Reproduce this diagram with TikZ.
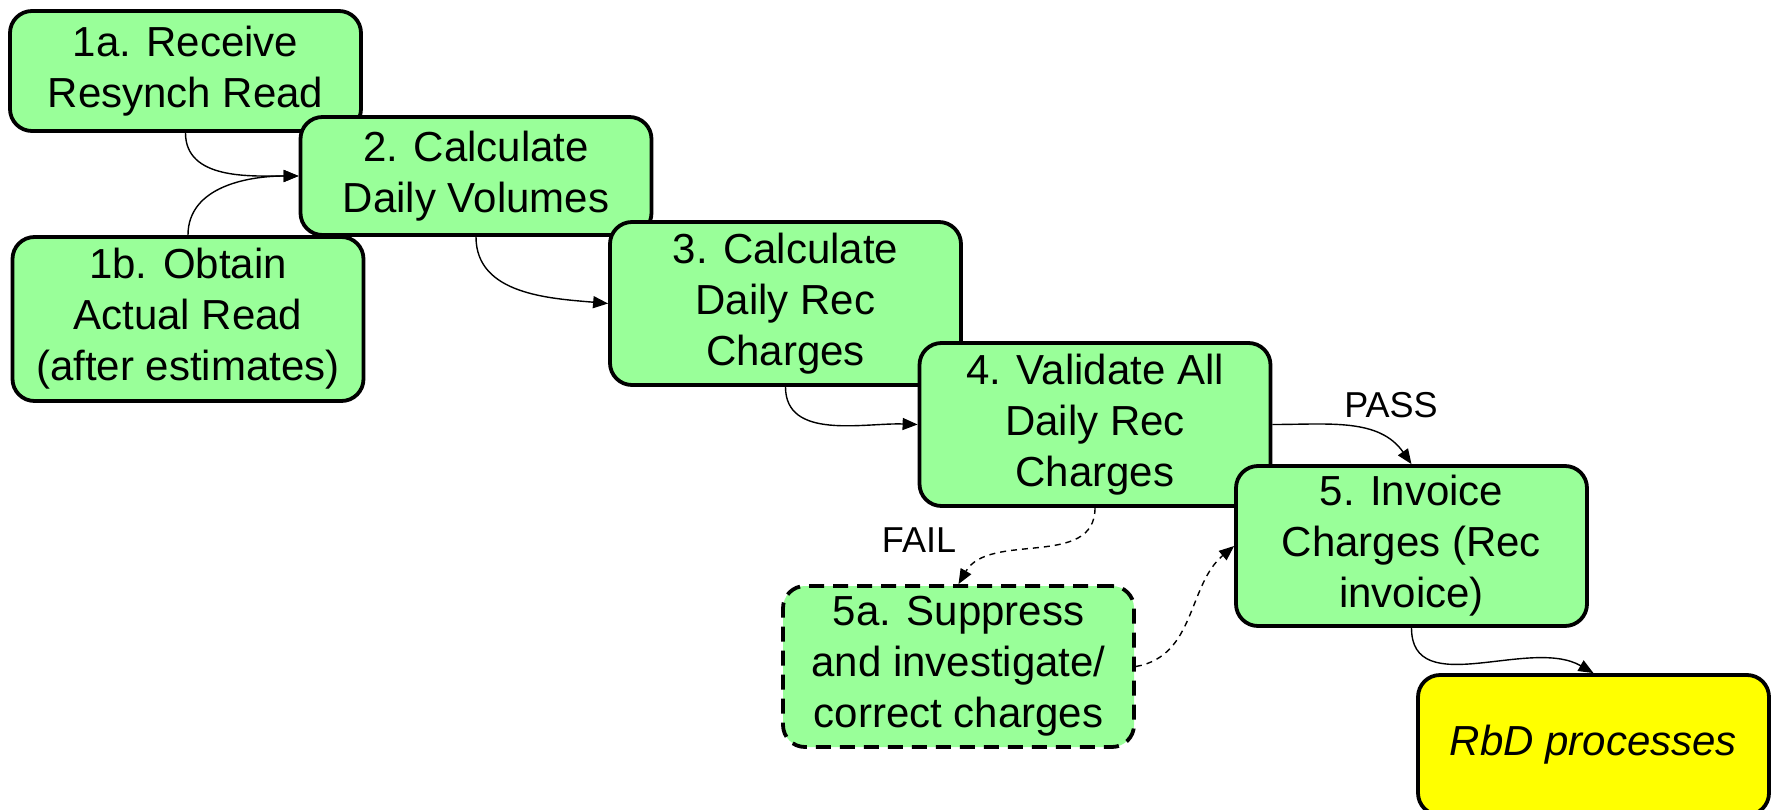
\documentclass[tikz,border=0pt]{standalone}
\usepackage{fontspec}
\setmainfont{Liberation Sans}
\usetikzlibrary{arrows.meta}
\definecolor{boxgreen}{HTML}{99FF99}
\definecolor{boxyellow}{HTML}{FFFF00}
\begin{document}
\begin{tikzpicture}[x=0.5pt,y=0.5pt,
  stepbox/.style={draw=black, line width=1.9pt, fill=boxgreen, rounded corners=11pt,
    align=center, font=\fontsize{21}{25.5}\selectfont, inner sep=0pt, minimum width=175.5pt},
  flow/.style={line width=0.7pt, -{Triangle[length=7.5pt,width=6pt]}},
  dflow/.style={flow, dash pattern=on 3pt off 2.5pt},
  lbl/.style={font=\fontsize{18}{21}\selectfont, inner sep=0pt}]
\useasboundingbox (0,0) rectangle (1773,-809);

\node[stepbox, minimum height=60pt] (a1) at (185.5,-71) {1a. Receive\\Resynch Read};
\node[stepbox, minimum height=59pt] (n2) at (476,-176) {2. Calculate\\Daily Volumes};
\node[stepbox, minimum height=82pt] (b1) at (188,-319) {1b. Obtain\\Actual Read\\(after estimates)};
\node[stepbox, minimum height=81.5pt] (n3) at (785.5,-303.5) {3. Calculate\\Daily Rec\\Charges};
\node[stepbox, minimum height=81.5pt] (n4) at (1095,-424.5) {4. Validate All\\Daily Rec\\Charges};
\node[stepbox, minimum height=80pt] (n5) at (1411.5,-546) {5. Invoice\\Charges (Rec\\invoice)};
\node[stepbox, minimum height=80.5pt, dash pattern=on 7.5pt off 4.5pt] (s5a) at (958.5,-666.5) {5a. Suppress\\and investigate/\\correct charges};
\node[stepbox, fill=boxyellow, minimum height=70pt, font=\fontsize{21}{25.5}\selectfont\itshape] (rbd) at (1593.5,-745) {RbD processes};

\draw[flow] (a1.south) to[out=-90, in=180] (n2.west);
\draw[flow] (b1.north) to[out=90, in=180] (n2.west);
\draw[flow] (n2.south) to[out=-90, in=175] (n3.west);
\draw[flow] (n3.south) to[out=-90, in=178] (n4.west);
\draw[flow] (n4.east) to[out=0, in=125] (n5.north);
\draw[dflow] (n4.south) to[out=-90, in=60] (s5a.north);
\draw[dflow] (s5a.east) to[out=10, in=-140] (n5.west);
\draw[flow] (n5.south) to[out=-90, in=150] (rbd.north);

\node[lbl] (pass) at (1391,-405) {PASS};
\node[lbl] (fail) at (919,-540) {FAIL};
\end{tikzpicture}
\end{document}
